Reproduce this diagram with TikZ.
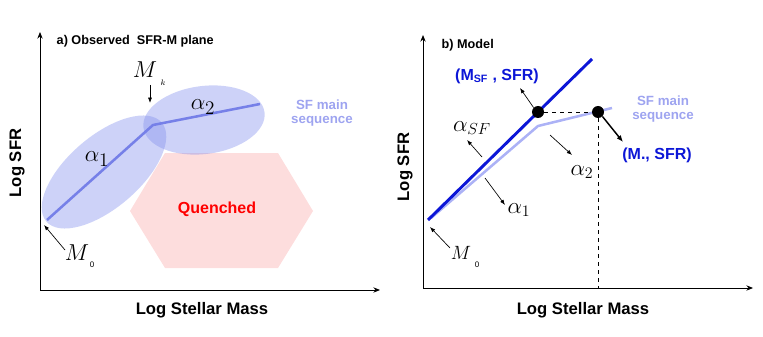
\documentclass[tikz,border=0pt]{standalone}
\usepackage[no-math]{fontspec}
\setmainfont{Liberation Sans}
\usepackage{xcolor}
\usetikzlibrary{arrows.meta}

\definecolor{ellblue}{RGB}{130,143,237}
\definecolor{msblue}{RGB}{118,128,232}
\definecolor{lightms}{RGB}{172,178,246}
\definecolor{seqtext}{RGB}{158,164,240}
\definecolor{darkblue}{RGB}{12,22,215}
\definecolor{quenchpink}{RGB}{253,221,221}

\begin{document}
\begin{tikzpicture}[x=0.75pt, y=0.75pt,
    axis/.style={-{Stealth[length=5pt,width=4pt]}, line width=0.7pt},
    pointer/.style={-{Latex[length=4pt,width=3pt]}, line width=0.5pt},
    bigpointer/.style={-{Latex[length=5pt,width=4pt]}, line width=1.1pt},
    axislabel/.style={font=\fontsize{12.5}{14}\selectfont\bfseries},
    paneltitle/.style={font=\fontsize{9.5}{11}\selectfont\bfseries, anchor=west},
    seqlabel/.style={font=\fontsize{10}{11}\selectfont\bfseries, text=seqtext,
                     align=center, inner sep=0pt},
    pointlabel/.style={font=\fontsize{12}{14}\selectfont\bfseries, text=darkblue},
    slopea/.style={font=\fontsize{19}{21}\selectfont, inner sep=0pt},
    slopeb/.style={font=\fontsize{17}{19}\selectfont, inner sep=0pt},
    massa/.style={font=\fontsize{17}{19}\selectfont, inner sep=0pt},
    massb/.style={font=\fontsize{15}{17}\selectfont, inner sep=0pt},
    sub/.style={font=\fontsize{6}{7}\selectfont, inner sep=0pt},
    ell/.style={fill=ellblue, fill opacity=0.4},
    dot/.style={circle, fill=black, inner sep=0pt, minimum size=9pt}
]
\useasboundingbox (0,0) rectangle (763,336);

% --- Panel a: observed plane ---
\coordinate (oa) at (40,46);
\coordinate (ya) at (40,304);
\coordinate (xa) at (380,46);
\draw [axis] (oa) -- (ya);
\draw [axis] (oa) -- (xa);
\node (titlea) [paneltitle] at (52,295) {a) Observed\ \ SFR-M plane};
\node (logsfra) [axislabel, rotate=90] at (17,173) {Log SFR};
\node (massxa) [axislabel] at (202,26) {Log Stellar Mass};

\fill [quenchpink] (130,125) -- (165,183) -- (278,183) -- (313,125)
    -- (278,68) -- (165,68) -- cycle;
\node (quenched) [font=\fontsize{12}{14}\selectfont\bfseries, text=red] at (217,127) {Quenched};

\fill [ell, rotate around={40.6:(104,164)}] (104,164) ellipse [x radius=76, y radius=36];
\fill [ell, rotate around={7.2:(204,216)}] (204,216) ellipse [x radius=61, y radius=34];

\coordinate (m0a) at (47,116);
\coordinate (mka) at (153,211);
\coordinate (enda) at (260,232);
\draw [msblue, line width=1.9pt, line join=round] (m0a) -- (mka) -- (enda);

\node (alpha1a) [slopea] at (97,177) {$\alpha_1$};
\node (alpha2a) [slopea] at (203,229) {$\alpha_2$};
\node (seqa) [seqlabel] at (322,223) {SF main\\sequence};

\node (mklabel) [massa] at (145,266) {$M$};
\node (mksub) [sub] at (163,253) {$k$};
\coordinate (mktail) at (150,251);
\coordinate (mkhead) at (150,233);
\draw [pointer] (mktail) -- (mkhead);

\node (m0label) [massa] at (77,83) {$M$};
\node (m0sub) [sub] at (92,71) {0};
\coordinate (m0tail) at (65,86);
\coordinate (m0head) at (44,111);
\draw [pointer] (m0tail) -- (m0head);

% --- Panel b: model ---
\coordinate (ob) at (423,48);
\coordinate (yb) at (423,301);
\coordinate (xb) at (753,48);
\draw [axis] (ob) -- (yb);
\draw [axis] (ob) -- (xb);
\node (titleb) [paneltitle] at (437,291) {b) Model};
\node (logsfrb) [axislabel, rotate=90] at (405,169) {Log SFR};
\node (massxb) [axislabel] at (583,26) {Log Stellar Mass};

\coordinate (startb) at (428,116);
\coordinate (endsf) at (592,277);
\coordinate (lowb) at (431,118);
\coordinate (kinkb) at (538,210);
\coordinate (endms) at (612,228);
\draw [lightms, line width=1.9pt, line join=round] (lowb) -- (kinkb) -- (endms);
\draw [darkblue, line width=2.2pt] (startb) -- (endsf);

\node (sfdot) [dot] at (538,224) {};
\node (msdot) [dot] at (598,224) {};
\coordinate (msfoot) at (598,48);
\draw [dashed, line width=0.6pt] (sfdot) -- (msdot);
\draw [dashed, line width=0.6pt] (msdot) -- (msfoot);

\node (msflabel) [pointlabel] at (497,260) {(M\textsubscript{SF} , SFR)};
\coordinate (msfhead) at (520,248);
\draw [pointer] (sfdot.north west) -- (msfhead);

\node (mstarlabel) [pointlabel] at (657,181) {(M., SFR)};
\coordinate (mstarhead) at (623,194);
\draw [bigpointer] (msdot.south east) -- (mstarhead);

\node (seqb) [seqlabel] at (663,227) {SF main\\sequence};

\node (alphasf) [slopeb] at (472,208) {$\alpha_{SF}$};
\coordinate (sftail) at (482,179);
\coordinate (sfhead) at (467,196);
\draw [pointer] (sftail) -- (sfhead);

\node (alpha1b) [slopeb] at (519,126) {$\alpha_1$};
\coordinate (a1tail) at (485,158);
\coordinate (a1head) at (505,131);
\draw [pointer] (a1tail) -- (a1head);

\node (alpha2b) [slopeb] at (582,164) {$\alpha_2$};
\coordinate (a2tail) at (550,201);
\coordinate (a2head) at (572,181);
\draw [pointer] (a2tail) -- (a2head);

\node (m0blabel) [massb] at (461,83) {$M$};
\node (m0bsub) [sub] at (477,71) {0};
\coordinate (m0btail) at (450,88);
\coordinate (m0bhead) at (430,109);
\draw [pointer] (m0btail) -- (m0bhead);
\end{tikzpicture}
\end{document}
